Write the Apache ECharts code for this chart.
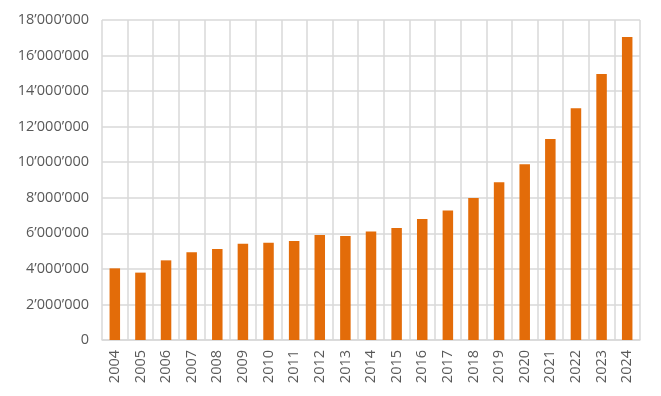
<!DOCTYPE html>
<html>
<head>
<meta charset="utf-8">
<script src="https://cdn.jsdelivr.net/npm/echarts@6/dist/echarts.min.js"></script>
<style>
  html, body { margin: 0; padding: 0; background: #ffffff; }
  #chart { width: 661px; height: 396px; }
</style>
</head>
<body>
<div id="chart"></div>
<script>
const years = ['2004', '2005', '2006', '2007', '2008', '2009', '2010', '2011', '2012', '2013', '2014',
	'2015', '2016', '2017', '2018', '2019', '2020', '2021', '2022', '2023', '2024'];

const values = [4030000, 3790000, 4480000, 4930000, 5120000, 5420000, 5470000, 5570000, 5910000, 5850000, 6110000,
	6300000, 6800000, 7290000, 7990000, 8870000, 9880000, 11300000, 13030000, 14960000, 17040000];

const chart = echarts.init(document.querySelector('#chart'));

const gridColor = '#d9d9d9';
const textColor = '#595959';

function formatNumber(v) {
	return String(v).replace(/\B(?=(\d{3})+(?!\d))/g, '\u2019');
}

const option = {
	animation: false,
	grid: {
		left: 102,
		right: 21,
		top: 20,
		bottom: 56
	},
	xAxis: {
		type: 'category',
		data: years,
		axisTick: { show: false },
		axisLine: { lineStyle: { color: gridColor, width: 1.5 } },
		splitLine: { show: true, lineStyle: { color: gridColor, width: 1.5 } },
		axisLabel: {
			rotate: 90,
			margin: 10,
			color: textColor,
			fontFamily: 'Open Sans',
			fontSize: 14.5
		}
	},
	yAxis: {
		type: 'value',
		min: 0,
		max: 18000000,
		interval: 2000000,
		axisLine: { show: false },
		axisTick: { show: false },
		splitLine: { lineStyle: { color: gridColor, width: 1.5 } },
		axisLabel: {
			margin: 13,
			color: textColor,
			fontFamily: 'Open Sans',
			fontSize: 14.5,
			formatter: formatNumber
		}
	},
	series: [
		{
			type: 'bar',
			data: values,
			barWidth: 10.5,
			itemStyle: { color: '#e36c09' }
		}
	]
};

chart.setOption(option);
</script>
</body>
</html>
